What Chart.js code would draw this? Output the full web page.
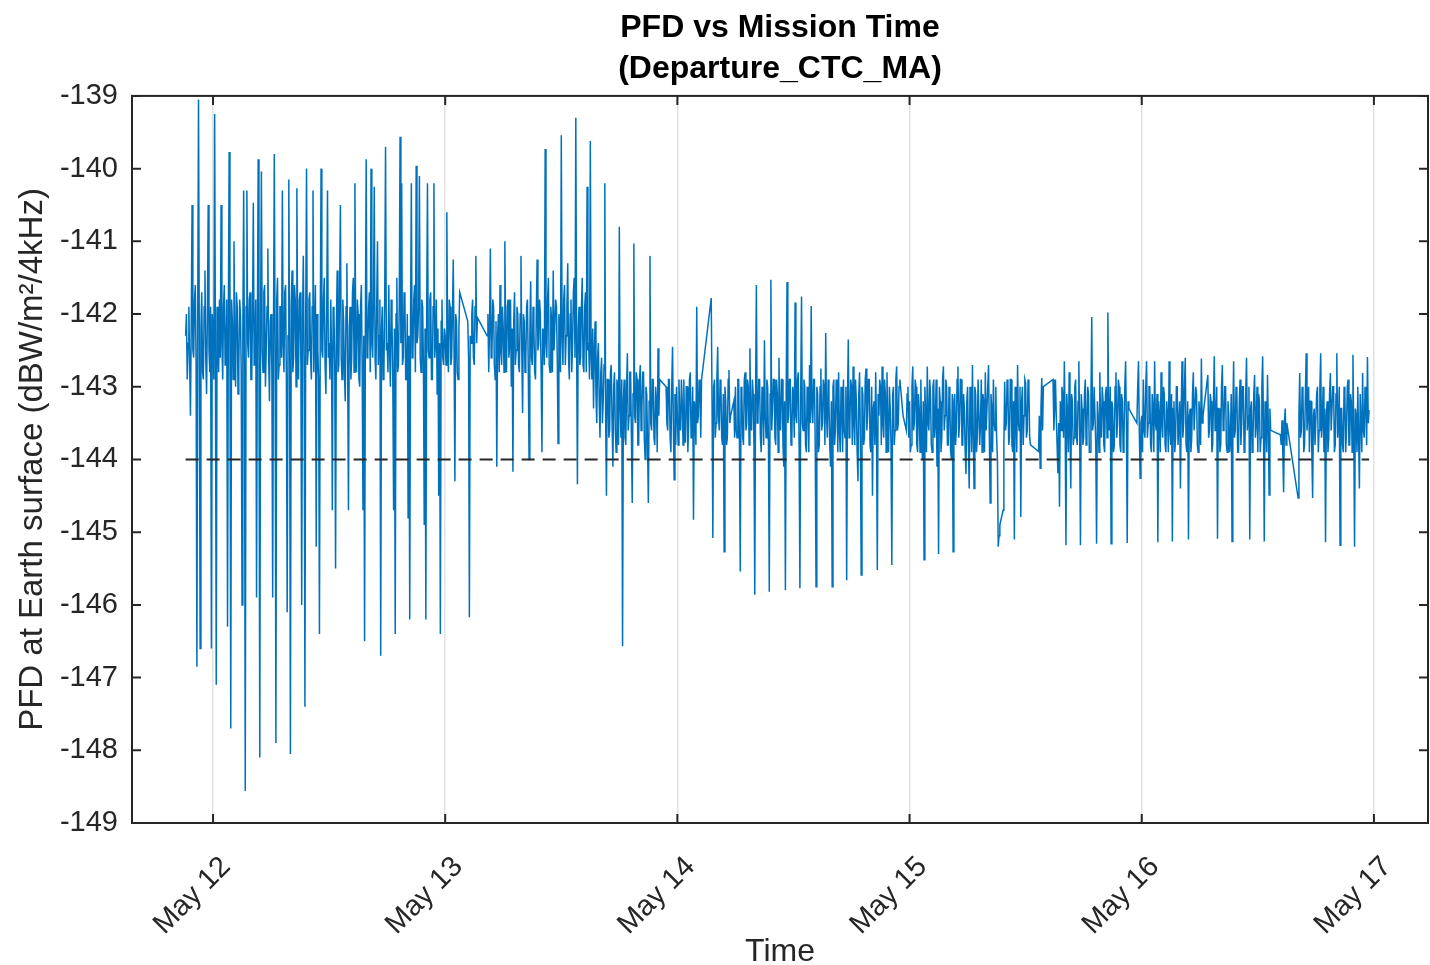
<!DOCTYPE html>
<html>
<head>
<meta charset="utf-8">
<title>PFD vs Mission Time</title>
<script src="https://cdn.jsdelivr.net/npm/chart.js@4.4.1/dist/chart.umd.min.js"></script>
<style>
    html, body { margin: 0; padding: 0; background: #fff; }
</style>
</head>
<body>
<canvas id="chartPfd" width="1430" height="965"></canvas>
<script>
// samples every 5 minutes, time axis in days of May
var sampleStep = 1 / 288;
var tickDays = [12, 13, 14, 15, 16, 17];
var yRange = [-149, -139];
var pfdLimit = -144;

// May 11 evening (ends just before May 12 00:00)
var pfdMay11 = [
    -142.3, -142.0, -142.9, -142.4, -141.9, -142.7, -143.4, -142.1, -140.5, -142.5, -142.6, -141.8,
    -141.6, -142.7, -146.85, -142.0, -139.05, -142.4, -146.6, -142.2, -141.7, -142.8, -142.9, -141.9,
    -141.4, -142.6, -143.1, -142.0, -140.5, -142.5, -142.8, -141.9, -146.6, -142.0
];

var pfdMay12 = [
    -142.2, -142.9, -139.25, -142.6, -147.1, -141.9, -142.4, -142.8, -141.8, -142.6, -140.5, -142.4,
    -142.9, -141.9, -141.6, -142.7, -142.5, -141.8, -146.3, -142.1, -139.77, -142.5, -147.7, -141.8,
    -142.1, -142.9, -141.0, -142.4, -143.0, -141.7, -141.9, -143.1, -142.7, -141.8, -142.0, -142.8,
    -146.0, -142.2, -140.3, -142.7, -148.56, -141.9, -140.3, -142.4, -142.6, -141.8, -141.7, -142.9,
    -142.9, -142.0, -140.47, -142.7, -142.4, -141.8, -145.9, -142.3, -139.87, -142.6, -148.1, -142.0,
    -140.04, -142.5, -142.8, -141.7, -141.6, -143.0, -142.5, -141.9, -141.1, -142.6, -143.2, -142.1,
    -142.0, -142.8, -145.9, -142.2, -139.8, -142.5, -147.9, -141.8, -141.5, -142.9, -142.7, -141.9,
    -141.9, -142.6, -140.3, -142.4, -142.8, -141.7, -141.6, -142.9, -146.1, -142.3, -140.15, -142.6,
    -148.05, -141.9, -141.4, -142.8, -142.6, -141.6, -141.8, -143.0, -140.27, -142.3, -142.9, -141.8,
    -141.7, -142.7, -146.0, -142.1, -141.2, -142.6, -147.4, -142.0, -140.0, -142.7, -142.5, -141.8,
    -141.7, -142.6, -142.9, -141.9, -140.3, -142.8, -142.2, -141.6, -145.2, -142.0, -142.5, -142.9,
    -146.4, -142.2, -140.0, -142.5, -142.6, -141.8, -141.5, -142.7, -143.1, -142.0, -140.3, -142.6,
    -142.4, -142.9, -141.8, -142.5, -144.7, -141.9, -142.0, -142.7, -145.5, -142.2, -141.4, -142.8,
    -142.7, -141.7, -140.5, -142.6, -142.9, -141.8, -142.1, -142.8, -143.2, -141.9, -141.3, -142.7,
    -144.7, -142.2, -141.9, -142.9, -142.6, -141.7, -141.5, -142.8, -140.2, -142.4, -142.8, -141.8,
    -142.0, -142.9, -143.0, -141.9, -141.6, -142.7, -144.7, -142.3, -146.5, -142.1, -139.87, -142.6,
    -142.5, -141.9, -141.7, -142.8, -140.0, -142.4, -142.6, -141.8, -140.25, -142.6, -142.9, -141.9,
    -141.0, -142.7, -142.3, -141.8, -146.7, -142.2, -141.9, -142.9, -142.8, -141.7, -139.7, -142.5,
    -142.4, -142.8, -141.6, -142.5, -143.0, -141.8, -142.1, -142.9, -144.7, -142.2, -146.4, -142.0,
    -141.5, -142.8, -142.7, -141.9, -139.56, -142.4, -140.2, -142.7, -142.6, -141.7, -141.8, -142.9,
    -142.9, -142.0, -144.8, -142.3, -146.2, -142.1, -140.2, -142.6, -142.5, -141.8, -141.6, -142.8,
    -139.96, -142.4, -142.3, -141.9, -140.1, -142.6, -142.8, -141.8, -141.9, -142.7, -144.9, -142.2,
    -146.2, -142.0, -140.2, -142.5, -142.6, -141.8, -141.7, -142.9, -142.9, -141.9, -140.2, -142.6,
    -142.4, -141.8, -143.1, -142.2, -144.5, -142.4, -146.4, -142.1, -141.8, -142.6, -142.7, -142.2
];

var pfdMay13 = [
    -142.3, -142.7, -140.6, -142.4, -142.8, -141.8, -141.9, -142.7, -142.6, -142.0, -141.25, -142.5,
    -144.3, -142.0, -142.1, -142.8, -142.9, -142.2, -141.7, null, null, null, null, null,
    null, null, null, null, -142.1, -142.6, -146.17, -142.3, -142.4, -142.0, -141.8, -142.6,
    -142.7, -141.9, -141.2, -142.4, -142.05, null, null, null, null, null, null, null,
    null, null, null, null, -142.3, -142.0, -142.8, -142.2, -141.1, -142.6, -142.5, -141.8,
    -141.9, -142.7, -142.9, -142.1, -144.1, -142.3, -142.0, -142.8, -141.6, -142.5, -142.7, -141.9,
    -142.2, -142.8, -141.0, -142.4, -142.8, -141.9, -141.8, -142.6, -142.4, -141.8, -143.0, -142.2,
    -144.17, -142.1, -141.7, -142.7, -142.5, -141.9, -142.0, -142.7, -142.8, -142.0, -141.2, -142.5,
    -143.36, -142.0, -142.1, -142.8, -142.6, -141.9, -141.8, -142.7, -144.0, -142.3, -141.55, -142.6,
    -142.7, -141.9, -142.2, -142.8, -142.9, -142.0, -141.25, -142.5, -142.4, -141.8, -142.0, -142.8,
    -143.9, -142.2, -142.3, -142.7, -139.73, -142.4, -142.6, -141.8, -141.5, -142.7, -142.8, -141.9,
    -142.1, -142.8, -141.4, -142.5, -142.5, -141.8, -141.9, -142.6, -143.78, -142.0, -142.2, -142.8,
    -139.54, -142.3, -142.7, -141.8, -141.6, -142.7, -142.3, -141.9, -141.3, -142.6, -142.9, -142.0,
    -141.8, -142.8, -142.4, -141.7, -141.5, -142.6, -139.3, -142.4, -144.34, -142.2, -141.9, -142.7,
    -142.6, -141.9, -141.5, -142.7, -142.8, -141.9, -141.7, -142.8, -140.25, -142.5, -142.4, -142.9,
    -139.62, -142.6, -142.9, -142.2, -143.3, -142.5, -142.1, -143.1, -143.5, -142.6, -142.4, -143.2,
    -143.7, -142.8, -142.6, -143.5, -143.2, -142.7, -140.2, -143.4, -144.5, -142.9, -142.9, -143.7,
    -143.6, -142.8, -142.7, -143.5, -144.1, -143.0, -142.8, -143.6, -143.9, -142.9, -143.0, -143.8,
    -140.8, -143.3, -143.7, -142.9, -146.57, -143.2, -142.9, -143.7, -143.8, -143.0, -142.54, -143.6,
    -143.4, -142.8, -142.8, -143.7, -144.6, -143.1, -141.03, -143.4, -143.5, -142.8, -142.9, -143.8,
    -143.8, -142.9, -142.7, -143.6, -143.3, -142.8, -142.8, -143.7, -144.0, -143.0, -143.1, -143.8,
    -144.6, -143.2, -141.2, -143.5, -143.6, -142.9, -142.9, -143.7, -143.8, -143.0, -143.2, -143.9,
    -142.47, -143.4, -142.9, null, null, null, null, null, null, null, -143.0, -143.5,
    -143.6, -142.9, -142.9, -143.7, -143.9, -143.0, -142.45, -143.5, -144.28, -143.1, -143.8, -143.0
];

var pfdMay14 = [
    -143.4, -143.8, -142.9, -143.5, -143.6, -142.9, -143.2, -143.8, -142.9, -143.6, -143.77, -143.0,
    -143.0, -143.9, -143.5, -142.9, -142.8, -143.7, -143.6, -143.0, -144.83, -143.2, -143.3, -143.8,
    -141.9, -143.5, -143.4, -142.9, -143.0, -143.7, -142.9, null, null, null, null, null,
    null, null, null, null, null, null, -141.78, -143.2, -145.08, -143.0, -142.9, -143.7,
    -143.5, -142.9, -142.45, -143.4, -143.6, -142.9, -143.0, -143.7, -143.8, -143.1, -145.27, -143.0,
    -143.2, -143.8, -143.7, -142.9, -142.77, -143.5, -143.4, null, null, null, -143.2, -143.7,
    -143.0, -143.6, -143.7, -142.9, -142.9, -143.8, -145.54, -143.0, -143.1, -143.7, -143.8, -142.9,
    -142.8, -143.6, -143.5, -142.9, -143.0, -143.8, -142.47, -143.5, -143.6, -142.9, -143.1, -143.8,
    -145.86, -143.1, -141.6, -143.5, -143.4, -142.9, -142.9, -143.7, -143.9, -143.0, -143.2, -143.8,
    -142.36, -143.4, -143.7, -142.9, -143.0, -143.8, -145.82, -143.1, -141.53, -143.6, -143.3, -142.9,
    -142.9, -143.7, -143.8, -142.9, -143.1, -143.9, -142.6, -143.4, -143.6, -142.9, -142.9, -143.8,
    -144.1, -143.2, -145.8, -143.0, -141.56, -143.5, -143.4, -142.9, -142.9, -143.8, -143.7, -143.0,
    -143.1, -143.7, -141.84, -143.4, -143.5, -142.9, -142.8, -143.8, -145.77, -143.1, -141.76, -143.5,
    -143.6, -142.9, -143.0, -143.8, -143.9, -143.0, -143.2, -143.9, -142.7, -143.5, -141.89, -143.3,
    -143.5, -142.9, -142.9, -143.8, -145.75, -143.0, -143.1, -143.9, -143.8, -143.0, -142.75, -143.6,
    -143.5, -142.9, -143.0, -143.8, -142.26, -143.4, -143.7, -142.9, -143.2, -143.8, -144.1, -143.2,
    -145.75, -143.0, -142.9, -143.8, -143.6, -142.9, -143.1, -143.9, -142.8, -143.6, -143.9, -143.0,
    -143.3, -143.9, -142.9, -143.6, -143.7, -143.0, -145.66, -143.2, -142.35, -143.7, -143.5, -142.9,
    -143.0, -143.8, -142.72, -143.5, -143.8, -142.9, -143.2, -143.9, -144.3, -143.1, -142.8, -143.7,
    -145.59, -143.0, -143.1, -143.8, -143.7, -142.9, -142.75, -143.6, -143.4, -142.9, -142.9, -143.8,
    -143.9, -143.0, -144.5, -143.3, -143.2, -143.8, -142.8, -143.6, -145.52, -143.1, -143.4, -142.9,
    -143.0, -143.8, -142.72, -143.5, -143.7, -142.9, -143.1, -143.9, -142.8, -143.6, -143.9, -143.0,
    -143.3, -143.8, -145.45, -143.1, -143.0, -143.8, -143.6, -142.9, -142.72, -143.6, -143.5, -143.0,
    -142.9, null, null, null, -143.4, null, null, null, -143.6, -143.1, -143.0, -143.7
];

var pfdMay15 = [
    -143.2, -143.9, -143.8, -143.0, -142.72, -143.6, -143.5, -142.9, -143.0, -143.8, -143.9, -143.1,
    -143.3, -143.9, -142.9, -143.7, -144.0, -143.2, -145.38, -143.0, -143.4, -143.9, -142.72, -143.5,
    -143.6, -142.9, -143.1, -143.8, -143.9, -143.0, -142.9, -143.7, -143.5, -142.9, -144.1, -143.3,
    -145.3, -143.0, -143.2, -143.9, -143.7, -142.9, -142.72, -143.6, -143.4, -142.9, -143.0, -143.8,
    -143.8, -143.0, -143.2, -143.9, -144.0, -143.1, -145.27, -143.2, -143.1, -143.8, -143.6, -142.9,
    -142.72, -143.7, -143.5, -142.9, -142.9, -143.8, -143.8, -143.1, -143.3, -143.9, -144.2, -143.2,
    -143.0, -143.8, -144.4, -143.0, -143.3, -143.9, -142.7, -143.6, -144.4, -143.0, -143.1, -143.9,
    -143.7, -142.9, -142.9, -143.8, -143.5, -142.9, -143.9, -143.1, -143.2, -143.9, -142.8, -143.6,
    -143.6, -143.0, -142.7, -143.7, -144.6, -143.1, -143.3, -143.9, -142.9, -143.5, -143.6, -143.0,
    -143.7, -144.0, -145.2, -145.05, -144.9, -144.85, -144.8, -144.75, -144.7, -143.8, -142.93, -143.6,
    -143.5, -142.9, -143.0, -143.8, -143.7, -142.9, -142.9, -143.8, -143.9, -143.2, -145.1, -143.0,
    -143.3, -143.9, -142.7, -143.5, -143.6, -143.0, -144.79, -143.2, -143.0, -143.8, -143.4, -142.9,
    -142.95, -143.7, -143.6, -142.9, -143.0, -143.7, -143.8, null, null, null, null, null,
    null, null, null, null, -143.89, -143.4, -144.12, -143.3, -142.88, -143.6, -143.0, null,
    null, null, null, null, null, null, null, null, null, null, -142.9, -143.6,
    -143.3, -142.9, -143.4, -143.8, -144.19, -143.5, -144.65, -143.2, -143.6, -143.0, -143.1, -143.7,
    -142.65, -143.5, -145.18, -143.1, -143.4, -143.9, -142.8, -143.6, -144.4, -143.1, -143.2, -143.8,
    -143.7, -143.0, -142.9, -143.7, -143.8, -143.2, -142.65, -143.6, -145.18, -143.1, -143.3, -143.8,
    -143.7, -143.1, -142.9, -143.8, -143.6, -143.0, -143.1, -143.9, -143.9, -143.2, -142.04, -143.6,
    -143.5, -143.0, -143.0, -143.8, -145.16, -143.2, -143.4, -143.9, -142.8, -143.5, -143.7, -143.0,
    -143.2, -143.8, -143.9, -143.1, -143.0, -143.7, -141.98, -143.4, -143.6, -143.0, -145.16, -143.2,
    -143.3, -143.9, -143.8, -143.0, -142.8, -143.7, -143.5, -142.9, -143.0, -143.8, -143.9, -143.1,
    -143.2, -143.9, -143.7, -143.0, -142.65, -143.5, -145.15, -143.2, -143.3, null, null, null,
    null, null, null, null, null, null, -143.5, -143.0, -142.65, -143.6, -144.26, -143.5
];

var pfdMay16 = [
    -143.4, -143.9, -142.9, -143.6, -143.7, -143.0, -142.65, -143.7, -143.5, -143.0, -143.0, -143.8,
    -143.9, -143.1, -143.3, -143.9, -142.65, -143.5, -143.6, -143.1, -145.14, -143.2, -143.4, -143.9,
    -142.8, -143.5, -143.7, -143.0, -143.1, -143.8, -143.9, -143.2, -143.4, -143.9, -142.65, -143.6,
    -143.8, -143.1, -145.13, -143.3, -143.2, -143.9, -143.7, -143.0, -143.0, -143.8, -143.8, -143.2,
    -144.4, -143.3, -142.65, -143.7, -143.5, -143.0, -142.6, -143.8, -143.9, -143.2, -145.1, -143.4,
    -143.3, -143.9, -143.7, -143.1, -142.8, -143.6, -143.6, -143.0, -143.1, -143.8, -143.9, -143.2,
    -143.4, -143.8, -142.61, -143.5, -143.4, null, null, null, null, null, -142.84, -143.7,
    -143.6, -143.1, -143.2, -143.9, -143.8, -143.2, -142.58, -143.6, -143.5, -143.0, -145.09, -143.3,
    -143.3, -143.9, -143.8, -143.0, -142.7, -143.6, -143.5, -143.0, -143.0, -143.8, -143.9, -143.2,
    -143.4, -143.9, -143.7, -143.1, -145.13, -143.4, -142.65, -143.7, -143.6, -143.0, -143.1, -143.9,
    -143.9, -143.2, -142.9, -143.8, -143.5, -143.0, -143.0, -143.9, -143.8, -143.1, -142.6, -143.6,
    -143.4, -143.0, -145.1, -143.3, -143.2, -143.9, -143.7, -143.1, -142.84, -143.7, -143.5, -143.0,
    -143.9, -143.1, -143.2, -143.9, -143.7, -143.0, -142.58, -143.5, -145.13, -143.2, -143.4, -143.9,
    -142.84, -143.5, -144.49, -143.3, -143.6, null, null, null, null, null, null, null,
    null, null, null, null, -143.66, -143.8, -143.46, -143.9, -144.45, -143.5, -143.3, -143.8,
    -143.5, null, null, null, null, null, null, null, null, null, null, null,
    null, null, -144.53, -143.4, -142.81, -143.7, -143.6, -143.0, -143.1, -143.9, -143.8, -143.1,
    -142.54, -143.6, -143.4, -143.0, -143.9, -143.2, -143.2, -143.9, -144.53, -143.4, -143.3, -143.8,
    -143.8, -143.1, -143.0, -143.9, -143.6, -143.0, -142.54, -143.7, -143.5, -143.0, -143.9, -143.3,
    -145.14, -143.4, -143.2, -143.9, -143.7, -143.1, -142.81, -143.6, -143.6, -143.0, -143.0, -143.9,
    -143.8, -143.1, -142.54, -143.7, -143.5, -143.0, -145.18, -143.3, -143.3, -143.8, -143.9, -143.0,
    -143.1, -143.9, -143.6, -143.0, -142.9, -143.8, -143.8, -143.1, -143.2, -143.9, -142.56, -143.6,
    -145.2, -143.3, -143.4, -143.9, -143.0, -143.7, -144.4, -143.1, -143.5, -143.9, -142.81, -143.6,
    -143.7, -143.0, -143.2, -143.8, -142.59, -143.5, -143.32
];

var dayStarts = [12 - pfdMay11.length * sampleStep, 12, 13, 14, 15, 16];
var pfdDays = [pfdMay11, pfdMay12, pfdMay13, pfdMay14, pfdMay15, pfdMay16];

var pfdPoints = [];
pfdDays.forEach(function (values, d) {
    values.forEach(function (v, i) {
        if (v !== null) pfdPoints.push({ x: dayStarts[d] + i * sampleStep, y: v });
    });
});

var limitPoints = [
    { x: pfdPoints[0].x, y: pfdLimit },
    { x: pfdPoints[pfdPoints.length - 1].x, y: pfdLimit }
];

var fontFamily = "'Liberation Sans', Arial, Helvetica, sans-serif";
var axisColor = '#262626';
var tickLen = 9;

// matlab style box with inward ticks
var axesBox = {
    id: 'axesBox',
    afterDraw: function (chart) {
        var c = chart.ctx;
        var a = chart.chartArea;
        var xs = chart.scales.x;
        var ys = chart.scales.y;
        c.save();
        c.strokeStyle = axisColor;
        c.lineWidth = 2;
        c.beginPath();
        xs.ticks.forEach(function (t) {
            var px = xs.getPixelForValue(t.value);
            c.moveTo(px, a.bottom);
            c.lineTo(px, a.bottom - tickLen);
            c.moveTo(px, a.top);
            c.lineTo(px, a.top + tickLen);
        });
        ys.ticks.forEach(function (t) {
            var py = ys.getPixelForValue(t.value);
            c.moveTo(a.left, py);
            c.lineTo(a.left + tickLen, py);
            c.moveTo(a.right, py);
            c.lineTo(a.right - tickLen, py);
        });
        c.stroke();
        c.strokeRect(a.left, a.top, a.right - a.left, a.bottom - a.top);
        c.restore();
    }
};

var ctx = document.getElementById('chartPfd').getContext('2d');
var chartPfd = new Chart(ctx, {
    type: 'line',
    data: {
        datasets: [{
            label: 'Limit',
            data: limitPoints,
            borderColor: axisColor,
            borderWidth: 2,
            borderDash: [13, 8],
            pointRadius: 0,
            fill: false
        }, {
            label: 'PFD',
            data: pfdPoints,
            borderColor: '#0072BD',
            borderWidth: 1.5,
            pointRadius: 0,
            tension: 0,
            fill: false
        }]
    },
    options: {
        responsive: false,
        animation: false,
        layout: { padding: { top: 0, right: 2, bottom: 0, left: 0 } },
        plugins: {
            legend: { display: false },
            tooltip: { enabled: false },
            title: {
                display: true,
                fullSize: false,
                text: ['PFD vs Mission Time', '(Departure_CTC_MA)'],
                color: '#000',
                font: { family: fontFamily, size: 32, weight: 'bold', lineHeight: 1.28 },
                padding: { top: 8, bottom: 6 }
            }
        },
        scales: {
            x: {
                type: 'linear',
                min: 11.651,
                max: 17.233,
                afterBuildTicks: function (scale) {
                    scale.ticks = tickDays.map(function (v) { return { value: v }; });
                },
                afterFit: function (scale) { scale.height = 142; },
                border: { display: false },
                grid: { color: '#e2e2e2', lineWidth: 1.5, drawTicks: false },
                ticks: {
                    autoSkip: false,
                    minRotation: 45,
                    maxRotation: 45,
                    padding: 27,
                    labelOffset: 13,
                    color: axisColor,
                    font: { family: fontFamily, size: 29 },
                    callback: function (v) { return 'May ' + v; }
                },
                title: {
                    display: true,
                    text: 'Time',
                    color: axisColor,
                    font: { family: fontFamily, size: 32, lineHeight: 0.8 },
                    padding: 0
                }
            },
            y: {
                min: yRange[0],
                max: yRange[1],
                afterFit: function (scale) { scale.width = 132; },
                border: { display: false },
                grid: { display: false, drawTicks: false },
                ticks: {
                    stepSize: 1,
                    padding: 14,
                    color: axisColor,
                    font: { family: fontFamily, size: 29 }
                },
                title: {
                    display: true,
                    text: 'PFD at Earth surface (dBW/m\u00b2/4kHz)',
                    color: axisColor,
                    font: { family: fontFamily, size: 33, lineHeight: 1.0 },
                    padding: { top: 16, bottom: 0 }
                }
            }
        }
    },
    plugins: [axesBox]
});
</script>
</body>
</html>
